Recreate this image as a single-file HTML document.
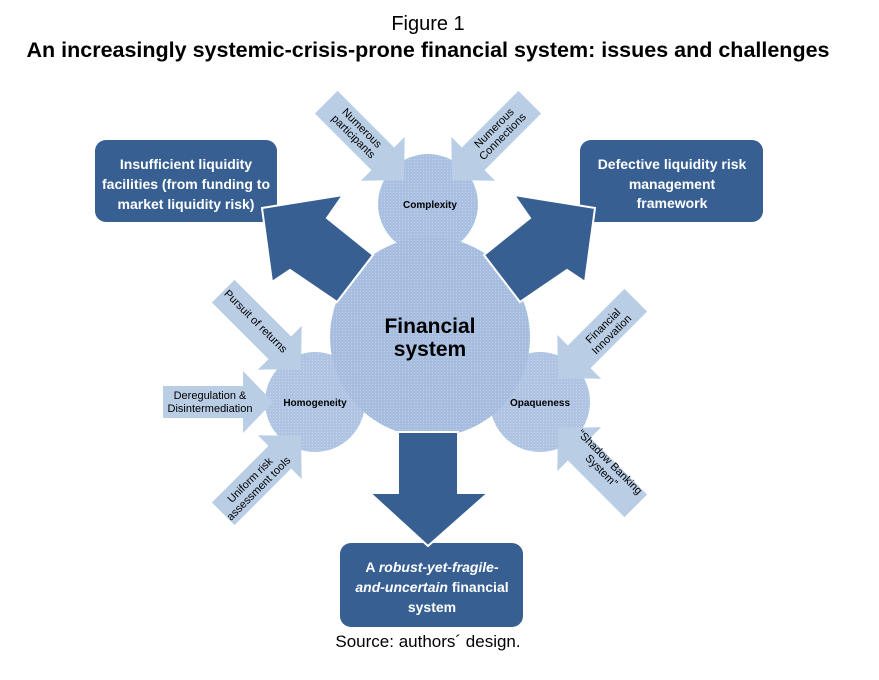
<!DOCTYPE html>
<html><head><meta charset="utf-8"><style>
html,body{margin:0;padding:0;background:#fff;}
svg{display:block;}
text{font-family:"Liberation Sans",Arial,sans-serif;}
</style></head><body>
<svg width="879" height="680" viewBox="0 0 879 680" xmlns="http://www.w3.org/2000/svg">
<defs>
<pattern id="p" width="3" height="3" patternUnits="userSpaceOnUse">
<rect width="3" height="3" fill="#a6bde0"/>
<rect width="1" height="1" fill="#c2d2e9"/>
</pattern>
<polygon id="la" points="0,-16 80,-16 80,-31 110,0 80,31 80,16 0,16" fill="#b9cde5"/>
</defs>
<text x="428" y="30" font-size="20" text-anchor="middle">Figure 1</text>
<text x="428" y="57" font-size="21.5" font-weight="bold" text-anchor="middle">An increasingly systemic-crisis-prone financial system: issues and challenges</text>

<!-- boxes -->
<rect x="95" y="140" width="182" height="82" rx="11" fill="#375f92"/>
<rect x="580" y="140" width="183" height="82" rx="11" fill="#375f92"/>
<rect x="340" y="543" width="183" height="84" rx="11" fill="#375f92"/>

<!-- circles -->
<circle cx="430" cy="337" r="100" fill="url(#p)"/>
<circle cx="428" cy="204" r="50" fill="url(#p)" opacity="0.95"/>
<circle cx="315" cy="402" r="50" fill="url(#p)" opacity="0.9"/>
<circle cx="540" cy="402" r="50" fill="url(#p)" opacity="0.9"/>

<!-- big arrows -->
<polygon points="262,208 343,195 327,218 373,255 337,302 290,270 272,282" fill="#375f92" stroke="#fff" stroke-width="2"/>
<polygon points="595,208 514,195 530,218 484,255 520,302 567,270 585,282" fill="#375f92" stroke="#fff" stroke-width="2"/>
<polygon points="398,432 458,432 458,493 488,493 428,546 370,493 398,493" fill="#375f92" stroke="#fff" stroke-width="2"/>

<!-- light arrows -->
<use href="#la" transform="translate(404,180) rotate(45) translate(-110,0)"/>
<use href="#la" transform="translate(452,180) rotate(135) translate(-110,0)"/>
<use href="#la" transform="translate(301,369) rotate(45) translate(-110,0)"/>
<use href="#la" transform="translate(273,402) translate(-110,0)"/>
<use href="#la" transform="translate(301,436) rotate(-45) translate(-110,0)"/>
<use href="#la" transform="translate(558,378) rotate(135) translate(-110,0)"/>
<use href="#la" transform="translate(558,428) rotate(-135) translate(-110,0)"/>

<!-- box text -->
<g fill="#fff" font-size="14" font-weight="bold" text-anchor="middle">
<text x="186" y="169">Insufficient liquidity</text>
<text x="186" y="189">facilities (from funding to</text>
<text x="186" y="209">market liquidity risk)</text>
<text x="672" y="169">Defective liquidity  risk</text>
<text x="672" y="189">management</text>
<text x="672" y="208">framework</text>
<text x="432" y="572">A <tspan font-style="italic">robust-yet-fragile-</tspan></text>
<text x="432" y="592"><tspan font-style="italic">and-uncertain</tspan> financial</text>
<text x="432" y="612">system</text>
</g>

<g font-weight="bold" text-anchor="middle" fill="#000">
<text x="430" y="333" font-size="21">Financial</text>
<text x="430" y="356" font-size="21">system</text>
<text x="430" y="208" font-size="10">Complexity</text>
<text x="315" y="406" font-size="10">Homogeneity</text>
<text x="540" y="406" font-size="10">Opaqueness</text>
</g>

<g font-size="11" text-anchor="middle" fill="#000">
<g transform="translate(358,132) rotate(45)"><text y="-2">Numerous</text><text y="10">participants</text></g>
<g transform="translate(498,132) rotate(-45)"><text y="-2">Numerous</text><text y="10">Connections</text></g>
<g transform="translate(256,321) rotate(45)"><text y="4">Pursuit of returns</text></g>
<text x="210" y="399">Deregulation &amp;</text>
<text x="210" y="412">Disintermediation</text>
<g transform="translate(254,484) rotate(-45)"><text y="-2">Uniform risk</text><text y="10">assessment tools</text></g>
<g transform="translate(607,330) rotate(-45)"><text y="-2">Financial</text><text y="10">Innovation</text></g>
<g transform="translate(606,466) rotate(45)"><text y="-2">“Shadow Banking</text><text y="10">System”</text></g>
</g>

<text x="428" y="647" font-size="17" text-anchor="middle">Source: authors´ design.</text>
</svg>
</body></html>
